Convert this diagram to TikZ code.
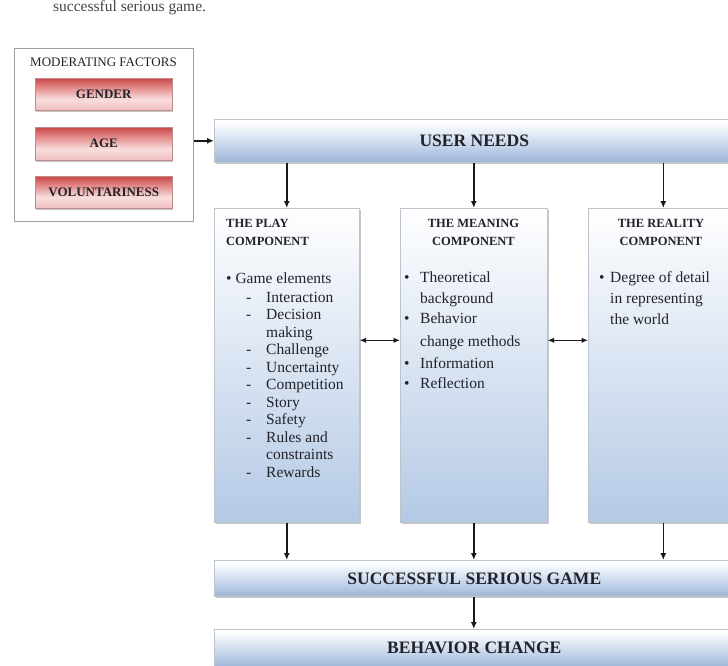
\documentclass[tikz,border=0pt]{standalone}
\usepackage{fontspec}
\setmainfont{Liberation Serif}
\usetikzlibrary{arrows.meta,shadows}

\definecolor{barlow}{RGB}{158,181,214}
\definecolor{barmid}{RGB}{184,203,229}
\definecolor{barhigh}{RGB}{226,234,245}
\definecolor{boxblue}{RGB}{180,201,229}
\definecolor{redtop}{RGB}{202,72,72}
\definecolor{redmid}{RGB}{228,140,140}
\definecolor{pinklight}{RGB}{248,222,222}
\definecolor{pinklow}{RGB}{240,190,192}
\definecolor{ink}{RGB}{34,34,42}
\definecolor{edge}{RGB}{190,196,206}

% vertical fades (0bp = bottom, the path spans 25bp..75bp)
\pgfdeclareverticalshading{bluefade}{100bp}{color(0bp)=(barlow); color(25bp)=(barlow);
  color(38bp)=(barmid); color(58bp)=(barhigh); color(72bp)=(white); color(100bp)=(white)}
\pgfdeclareverticalshading{redfade}{100bp}{color(0bp)=(pinklow); color(25bp)=(pinklow);
  color(42bp)=(pinklight); color(60bp)=(redmid); color(75bp)=(redtop); color(100bp)=(redtop)}

\tikzset{
  softshadow/.style={drop shadow={shadow xshift=1.2pt,shadow yshift=-1.6pt,opacity=0.22,fill=black}},
  bar/.style={draw=edge, line width=0.6pt, shading=bluefade,
    minimum width=520pt, inner sep=0pt, softshadow, text=ink,
    font=\fontsize{17.5}{20}\selectfont\bfseries},
  compbox/.style={draw=edge, line width=0.6pt, top color=white, bottom color=boxblue,
    anchor=north west, minimum height=314pt, inner sep=0pt, softshadow},
  redbar/.style={draw=red!30!gray!70, line width=0.5pt, shading=redfade,
    anchor=north west, minimum width=137pt, inner sep=0pt,
    softshadow, text=ink, font=\fontsize{13}{15}\selectfont\bfseries},
  frame/.style={draw=gray!75, line width=1.2pt, fill=white, anchor=north west,
    minimum width=179pt, minimum height=173pt, inner sep=0pt},
  ctitle/.style={text=ink, inner sep=0pt, font=\fontsize{12.5}{14}\selectfont\bfseries},
  body/.style={text=ink, inner sep=0pt, anchor=base west, font=\fontsize{15.5}{17.5}\selectfont},
  arr/.style={-{Latex[length=7pt,width=6pt]}, line width=1.5pt, draw=black!90},
  dblarr/.style={{Latex[length=6.5pt,width=5.5pt]}-{Latex[length=6.5pt,width=5.5pt]}, line width=1.5pt, draw=black!90},
}

\begin{document}
\begin{tikzpicture}[x=1pt,y=-1pt]
  \useasboundingbox (0,0) rectangle (728,666);
  \clip (0,0) rectangle (728,666);

  % closing words of the caption line above
  \node[body, text=ink!85] (cap) at (53,12) {successful serious game.};

  % moderating factors
  \node[frame] (mod) at (14,48) {};
  \node[text=ink, inner sep=0pt, anchor=base, font=\fontsize{13}{15}\selectfont] (modt) at (103.5,67) {MODERATING FACTORS};
  \node[redbar, minimum height=32pt] (gen) at (35,78) {GENDER};
  \node[redbar, minimum height=33pt] (age) at (35,127) {AGE};
  \node[redbar, minimum height=32pt] (vol) at (35,176) {VOLUNTARINESS};

  % main chain
  \node[bar, minimum height=43pt, anchor=north west] (un) at (214,119) {USER NEEDS};
  \node[bar, minimum height=36pt, anchor=north west] (ssg) at (214,560) {SUCCESSFUL SERIOUS GAME};
  \node[bar, minimum height=38pt, anchor=north west] (bc) at (214,629) {BEHAVIOR CHANGE};

  % the three components
  \node[compbox, minimum width=145pt] (play) at (214,208) {};
  \node[compbox, minimum width=147pt] (mean) at (400,208) {};
  \node[compbox, minimum width=150pt] (real) at (588,208) {};

  % play component
  \node[ctitle, anchor=base west] (pt1) at (226,227.5) {THE PLAY};
  \node[ctitle, anchor=base west] (pt2) at (226,245) {COMPONENT};
  \node[body] (pg) at (226,283) {\textbullet\ Game elements};
  \foreach \txt/\yy/\d [count=\k] in {Interaction/302/1, Decision/319.5/1, making/337/0,
      Challenge/354.5/1, Uncertainty/372/1, Competition/389.5/1, Story/407/1,
      Safety/424.5/1, Rules and/442/1, constraints/459.5/0, Rewards/477/1}{
    \node[body] (pi\k) at (266,\yy) {\txt};
    \ifnum\d=1 \node[body] (pd\k) at (246,\yy) {-}; \fi
  }

  % meaning component
  \node[ctitle, anchor=base] (mt1) at (473.5,227.5) {THE MEANING};
  \node[ctitle, anchor=base] (mt2) at (473.5,245) {COMPONENT};
  \foreach \txt/\yy/\d [count=\k] in {Theoretical/282/1, background/303/0, Behavior/323/1,
      change methods/346/0, Information/368/1, Reflection/388/1}{
    \node[body] (mi\k) at (420,\yy) {\txt};
    \ifnum\d=1 \node[body] (mb\k) at (404,\yy) {\textbullet}; \fi
  }

  % reality component
  \node[ctitle, anchor=base] (rt1) at (661,227.5) {THE REALITY};
  \node[ctitle, anchor=base] (rt2) at (661,245) {COMPONENT};
  \node[body] (rb1) at (599,282) {\textbullet};
  \node[body] (ri1) at (610,282) {Degree of detail};
  \node[body] (ri2) at (610,303) {in representing};
  \node[body] (ri3) at (610,324) {the world};

  % connectors
  \draw[arr] (un.west -| mod.east) -- (un.west);
  \foreach \c in {play,mean,real}{
    \draw[arr] (un.south -| \c.north) -- (\c.north);
    \draw[arr] (\c.south) -- (\c.south |- ssg.north);
  }
  \draw[dblarr] ([yshift=25pt]play.east) -- ([yshift=25pt]mean.west);
  \draw[dblarr] ([yshift=25pt]mean.east) -- ([yshift=25pt]real.west);
  \draw[arr] (ssg.south -| mean.north) -- (bc.north -| mean.north);
\end{tikzpicture}
\end{document}
